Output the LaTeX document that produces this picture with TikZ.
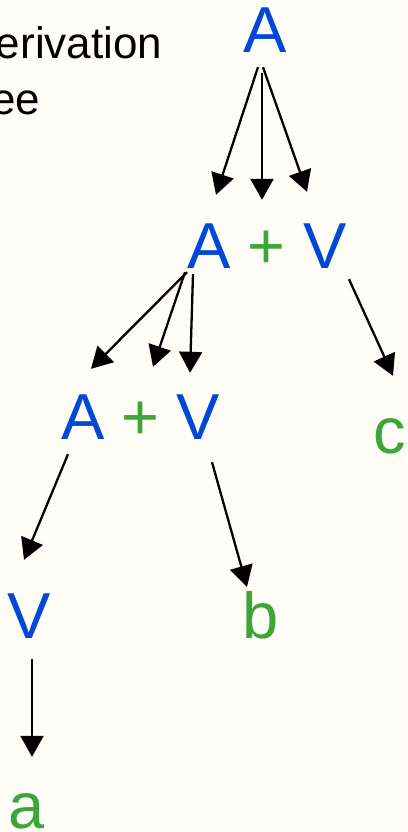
\documentclass[tikz,border=0pt]{standalone}
\usepackage{fontspec}
\setmainfont{Liberation Sans}
\usetikzlibrary{arrows.meta}
\definecolor{paper}{HTML}{FFFDF6}
\definecolor{symblue}{HTML}{0048D5}
\definecolor{symgreen}{HTML}{3CA63C}

\begin{document}
\begin{tikzpicture}[
    x=1pt, y=-1pt,
    sym/.style={anchor=base,inner sep=0pt,text height=47pt,text depth=0pt,font=\fontsize{65}{65}\selectfont},
    nonterm/.style={sym,text=symblue},
    term/.style={sym,text=symgreen},
    edge/.style={line width=2.3pt,-{Triangle[length=21pt,width=23pt]}}
  ]
    \fill[paper] (0,0) rectangle (407,832);
    \useasboundingbox (0,0) rectangle (407,832);
    \clip (0,0) rectangle (407,832);

    \node[anchor=base west,inner sep=0pt,align=left,font=\fontsize{44}{55}\selectfont] (title) at (-36,114) {Derivation\\tree};

    % level 1
    \node[nonterm] (A1) at (265,53) {A};
    % level 2
    \node[nonterm] (A2) at (209.5,268) {A};
    \node[term] (plus2) at (266.5,268) {+};
    \node[nonterm] (V2) at (325,268) {V};
    % level 3
    \node[nonterm] (A3) at (83,439) {A};
    \node[term] (plus3) at (140,439) {+};
    \node[nonterm] (V3) at (198.5,439) {V};
    \node[term] (c) at (390,453) {c};
    % level 4
    \node[nonterm] (V4) at (29,638) {V};
    \node[term] (b) at (260.5,638) {b};
    % level 5
    \node[term] (a) at (26.5,828) {a};

    \draw[edge] ([xshift=-7pt,yshift=-14pt]A1.south) -- ([xshift=6.5pt,yshift=26pt]A2.north);
    \draw[edge] ([xshift=-3pt,yshift=-20pt]A1.south) -- ([xshift=-4.5pt,yshift=21pt]plus2.north);
    \draw[edge] ([xshift=-2pt,yshift=-14pt]A1.south) -- ([xshift=-18pt,yshift=29pt]V2.north);

    \draw[edge] ([xshift=-22.5pt,yshift=-4pt]A2.south) -- ([xshift=8pt,yshift=23pt]A3.north);
    \draw[edge] ([xshift=-24.5pt,yshift=-4pt]A2.south) -- ([xshift=13pt,yshift=25pt]plus3.north);
    \draw[edge] ([xshift=-16.5pt,yshift=-6pt]A2.south) -- ([xshift=-8.5pt,yshift=19pt]V3.north);
    \draw[edge] ([xshift=24pt,yshift=-11pt]V2.south) -- ([xshift=3pt,yshift=30pt]c.north);

    \draw[edge] ([xshift=-15pt,yshift=-15pt]A3.south) -- ([xshift=-5pt,yshift=31pt]V4.north);
    \draw[edge] ([xshift=13.5pt,yshift=-23pt]V3.south) -- ([xshift=-13.5pt,yshift=4pt]b.north);
    \draw[edge] ([xshift=3pt,yshift=-21pt]V4.south) -- ([xshift=5.5pt,yshift=24pt]a.north);
  \end{tikzpicture}
\end{document}
